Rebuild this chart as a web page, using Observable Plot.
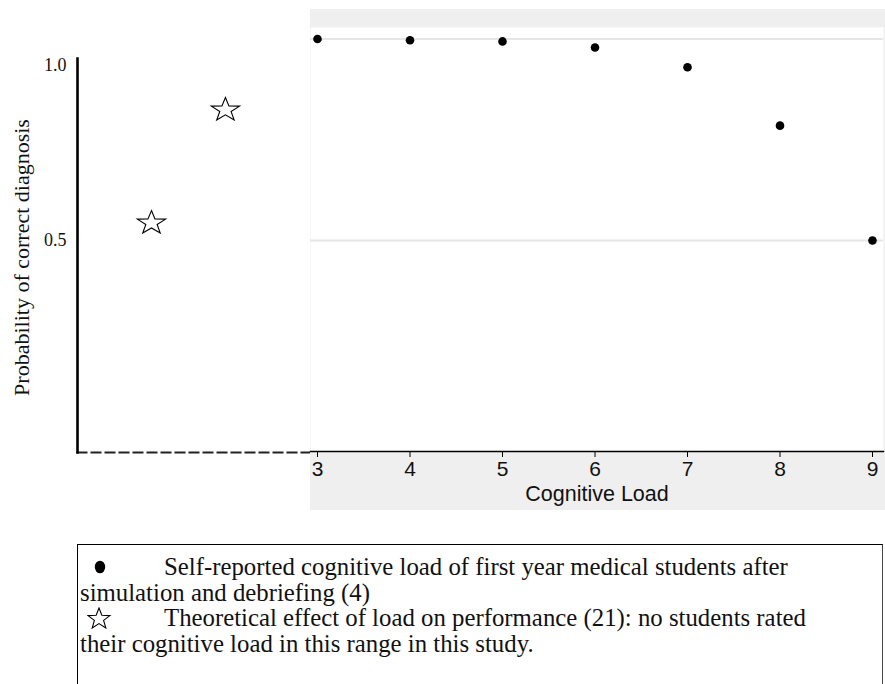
<!DOCTYPE html>
<html>
<head>
<meta charset="utf-8">
<script src="https://cdn.jsdelivr.net/npm/d3@7"></script>
<script src="https://cdn.jsdelivr.net/npm/@observablehq/plot@0.6"></script>
<style>
  html, body { margin: 0; padding: 0; background: #fff; }
  #wrap { position: relative; width: 885px; height: 684px; overflow: hidden; }
  #left { position: absolute; left: 0; top: 0; }
  #right { position: absolute; left: 310px; top: 9px; }
  #legend {
    position: absolute; left: 77px; top: 544px; width: 806px; height: 160px;
    border-left: 1.5px solid #000; border-top: 1.5px solid #000; border-right: 1px solid #444;
    font-family: "Liberation Serif", "Times New Roman", serif; font-size: 24.8px; line-height: 25.5px;
    color: #111; white-space: nowrap; padding-top: 9px; box-sizing: border-box;
  }
  #legend .row { position: relative; padding-left: 2px; }
  #legend .first { display: block; text-indent: 84px; }
  #legend svg.sym { position: absolute; }
</style>
</head>
<body>
<div id="wrap">
  <div id="left"></div>
  <div id="right"></div>
  <div id="legend"></div>
</div>
<script>
// ---- data ----
const loadLevels = [3, 4, 5, 6, 7, 8, 9];
const correctProb = [1.0, 0.997, 0.994, 0.979, 0.930, 0.785, 0.5];
const theoryLoad = [1, 2];
const theoryProb = [0.55, 0.872];
const yTicks = [0.5, 1.0];
const xTitle = "Cognitive Load";
const yTitle = "Probability of correct diagnosis";
const legendEntries = [
  ["dot", "Self-reported cognitive load of first year medical students after", "simulation and debriefing (4)"],
  ["star", "Theoretical effect of load on performance (21): no students rated", "their cognitive load in this range in this study."]
];

const observed = loadLevels.map((x, i) => ({x, y: correctProb[i]}));
const theory = theoryLoad.map((x, i) => ({x, y: theoryProb[i]}));

const serif = "Liberation Serif, Times New Roman, serif";
const sans = "Liberation Sans, Arial, sans-serif";

function starPath(context, R, sx, inner) {
  for (let i = 0; i < 10; i++) {
    const a = -Math.PI / 2 + i * Math.PI / 5;
    const rad = i % 2 === 0 ? R : R * inner;
    const px = sx * rad * Math.cos(a), py = rad * Math.sin(a);
    if (i === 0) context.moveTo(px, py); else context.lineTo(px, py);
  }
  context.closePath();
}

// squat five-pointed star symbol
const wideStar = {
  draw(context, size) {
    starPath(context, Math.sqrt(size / Math.PI) * 1.65, 1.2, 0.4);
  }
};

// ---- left (theoretical) panel ----
const left = Plot.plot({
  width: 885, height: 520,
  marginLeft: 77, marginRight: 575, marginTop: 58, marginBottom: 68,
  style: {background: "transparent", overflow: "visible"},
  x: {domain: [0, 3.15], range: [77, 310], axis: null},
  y: {domain: [0.5, 1], range: [240, 64.5]},
  marks: [
    Plot.frame({anchor: "bottom", stroke: "#222", strokeWidth: 2, strokeDasharray: "9,5"}),
    Plot.frame({anchor: "left", stroke: "#000", strokeWidth: 2.6}),
    Plot.axisY(yTicks, {tickSize: 0, tickPadding: 11, tickFormat: d3.format(".1f"), fontSize: 18, fontFamily: serif, fill: "#111", label: null}),
    Plot.text([yTitle], {frameAnchor: "left", textAnchor: "middle", rotate: -90, dx: -56, dy: 2, fontSize: 22, fontFamily: serif, fill: "#111"}),
    Plot.dot(theory, {x: "x", y: "y", symbol: wideStar, r: 7.5, fill: "white", stroke: "#000", strokeWidth: 1.1})
  ]
});
document.getElementById("left").appendChild(left);

// ---- right (observed) panel ----
const right = Plot.plot({
  width: 575, height: 501,
  marginLeft: 0, marginRight: 2, marginTop: 18, marginBottom: 59,
  style: {background: "#efefef", overflow: "visible"},
  x: {domain: [3, 9], range: [7, 562]},
  y: {domain: [0.5, 1], range: [231, 29.5], axis: null},
  marks: [
    Plot.frame({fill: "white", stroke: null}),
    Plot.gridY(yTicks, {stroke: "#e6e6e6", strokeOpacity: 1, strokeWidth: 2}),
    Plot.frame({anchor: "bottom", stroke: "#000", strokeWidth: 1.5}),
    Plot.axisX(loadLevels, {tickSize: 6, tickPadding: 4, fontSize: 21, fontFamily: sans, fill: "#111", label: null}),
    Plot.text([xTitle], {frameAnchor: "bottom", dy: 49, fontSize: 21.5, fontFamily: sans, fill: "#111"}),
    Plot.dot(observed, {x: "x", y: "y", r: 4.3, fill: "#000", stroke: null})
  ]
});
document.getElementById("right").appendChild(right);

// ---- legend ----
const NS = "http://www.w3.org/2000/svg";
const leg = document.getElementById("legend");
legendEntries.forEach(([sym, l1, l2]) => {
  const row = document.createElement("div");
  row.className = "row";
  const svg = document.createElementNS(NS, "svg");
  svg.setAttribute("class", "sym");
  svg.setAttribute("width", 26);
  svg.setAttribute("height", 24);
  svg.style.left = "9px";
  svg.style.top = "1px";
  if (sym === "dot") {
    const e = document.createElementNS(NS, "ellipse");
    e.setAttribute("cx", 13); e.setAttribute("cy", 12);
    e.setAttribute("rx", 5.2); e.setAttribute("ry", 6.3);
    e.setAttribute("fill", "#000");
    svg.appendChild(e);
  } else {
    const p = d3.path();
    starPath(p, 11, 1.05, 0.42);
    const el = document.createElementNS(NS, "path");
    el.setAttribute("d", p.toString());
    el.setAttribute("transform", "translate(12,13)");
    el.setAttribute("fill", "white");
    el.setAttribute("stroke", "#000");
    el.setAttribute("stroke-width", "1.1");
    svg.appendChild(el);
  }
  row.appendChild(svg);
  const first = document.createElement("span");
  first.className = "first";
  first.textContent = l1;
  row.appendChild(first);
  row.appendChild(document.createTextNode(l2));
  leg.appendChild(row);
});
</script>
</body>
</html>
